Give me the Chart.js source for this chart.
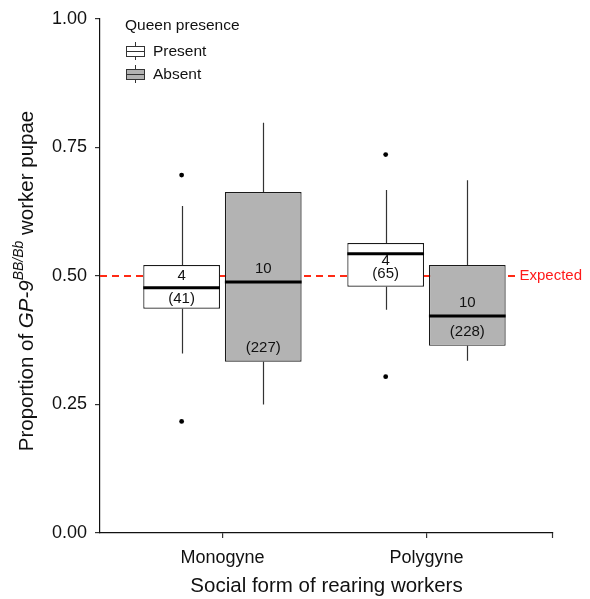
<!DOCTYPE html>
<html>
<head>
<meta charset="utf-8">
<script src="https://cdn.jsdelivr.net/npm/chart.js@4.4.1/dist/chart.umd.min.js"></script>
<style>
html, body { margin: 0; padding: 0; background: #fff; }
</style>
</head>
<body>
<canvas id="graficoCanvas" width="590" height="599"></canvas>
<script>
// DADOS
const categorias = ['Monogyne', 'Polygyne']
const posicoes = [1, 2]

// Queen present
const q1Present = [0.436, 0.479]
const q3Present = [0.521, 0.564]
const medianaPresent = [0.477, 0.543]
const bigodeMinPresent = [0.349, 0.434]
const bigodeMaxPresent = [0.636, 0.667]
const outliersPresent = [[0.217, 0.696], [0.304, 0.736]]
const coloniasPresent = [4, 4]
const pupasPresent = [41, 65]
const yColoniasPresent = [0.500, 0.529]
const yPupasPresent = [0.455, 0.504]

// Queen absent
const q1Absent = [0.333, 0.364]
const q3Absent = [0.663, 0.521]
const medianaAbsent = [0.488, 0.422]
const bigodeMinAbsent = [0.250, 0.335]
const bigodeMaxAbsent = [0.798, 0.686]
const outliersAbsent = [[], []]
const coloniasAbsent = [10, 10]
const pupasAbsent = [227, 228]
const yColoniasAbsent = [0.514, 0.448]
const yPupasAbsent = [0.360, 0.391]

const esperado = 0.5
const fimEsperado = 2.436
const ticksY = [0, 0.25, 0.5, 0.75, 1]

const FONTE = "'Liberation Sans', Arial, Helvetica, sans-serif"
Chart.defaults.font.family = FONTE
Chart.defaults.color = '#111'

const grupos = [
	{ q1: q1Present, q3: q3Present, med: medianaPresent, min: bigodeMinPresent, max: bigodeMaxPresent,
	  out: outliersPresent, col: coloniasPresent, pup: pupasPresent, yCol: yColoniasPresent, yPup: yPupasPresent },
	{ q1: q1Absent, q3: q3Absent, med: medianaAbsent, min: bigodeMinAbsent, max: bigodeMaxAbsent,
	  out: outliersAbsent, col: coloniasAbsent, pup: pupasAbsent, yCol: yColoniasAbsent, yPup: yPupasAbsent }
]

// desenha bigodes, medianas, outliers, textos e legenda
const boxPlugin = {
	id: 'boxPlugin',
	beforeDatasetsDraw(chart) {
		const ctx = chart.ctx
		const x = chart.scales.x
		const y = chart.scales.y
		const ye = y.getPixelForValue(esperado)

		// linha esperada
		ctx.save()
		ctx.strokeStyle = '#ff2a14'
		ctx.lineWidth = 2
		ctx.setLineDash([7, 5])
		ctx.beginPath()
		ctx.moveTo(chart.chartArea.left, ye)
		ctx.lineTo(x.getPixelForValue(fimEsperado), ye)
		ctx.stroke()
		ctx.restore()

		// bigodes
		ctx.save()
		ctx.strokeStyle = '#333'
		ctx.lineWidth = 1.2
		grupos.forEach((g, d) => {
			const meta = chart.getDatasetMeta(d)
			meta.data.forEach((bar, i) => {
				const cx = Math.round(bar.x) + 0.5
				ctx.beginPath()
				ctx.moveTo(cx, y.getPixelForValue(g.max[i]))
				ctx.lineTo(cx, y.getPixelForValue(g.q3[i]))
				ctx.moveTo(cx, y.getPixelForValue(g.q1[i]))
				ctx.lineTo(cx, y.getPixelForValue(g.min[i]))
				ctx.stroke()
			})
		})
		ctx.restore()
	},
	afterDatasetsDraw(chart) {
		const ctx = chart.ctx
		const y = chart.scales.y
		const x = chart.scales.x
		ctx.save()
		grupos.forEach((g, d) => {
			const meta = chart.getDatasetMeta(d)
			meta.data.forEach((bar, i) => {
				const half = bar.width / 2
				// mediana
				ctx.strokeStyle = '#000'
				ctx.lineWidth = 3
				ctx.beginPath()
				const ym = y.getPixelForValue(g.med[i])
				ctx.moveTo(bar.x - half, ym)
				ctx.lineTo(bar.x + half, ym)
				ctx.stroke()
				// outliers
				ctx.fillStyle = '#000'
				g.out[i].forEach(v => {
					ctx.beginPath()
					ctx.arc(bar.x, y.getPixelForValue(v), 2.4, 0, Math.PI * 2)
					ctx.fill()
				})
				// textos
				ctx.fillStyle = '#111'
				ctx.font = '15px ' + FONTE
				ctx.textAlign = 'center'
				ctx.textBaseline = 'middle'
				ctx.fillText(String(g.col[i]), bar.x, y.getPixelForValue(g.yCol[i]))
				ctx.fillText('(' + g.pup[i] + ')', bar.x, y.getPixelForValue(g.yPup[i]))
			})
		})

		// texto Expected
		ctx.fillStyle = '#ff1a1a'
		ctx.font = '15px ' + FONTE
		ctx.textAlign = 'left'
		ctx.textBaseline = 'middle'
		ctx.fillText('Expected', x.getPixelForValue(fimEsperado) + 4, y.getPixelForValue(esperado))
		ctx.restore()
	},
	afterDraw(chart) {
		const ctx = chart.ctx
		const x = chart.scales.x
		const area = chart.chartArea

		// tick final do eixo x
		ctx.save()
		ctx.strokeStyle = '#333'
		ctx.lineWidth = 1.2
		ctx.beginPath()
		ctx.moveTo(x.right - 0.5, area.bottom)
		ctx.lineTo(x.right - 0.5, area.bottom + 5)
		ctx.stroke()

		// titulo do eixo y
		ctx.translate(27, 281)
		ctx.rotate(-Math.PI / 2)
		ctx.fillStyle = '#111'
		ctx.textBaseline = 'middle'
		ctx.textAlign = 'left'
		const partes = [
			{ t: 'Proportion of ', f: '20.5px ' + FONTE, dy: 0 },
			{ t: 'GP-9', f: 'italic 20.5px ' + FONTE, dy: 0 },
			{ t: 'BB/Bb', f: 'italic 14px ' + FONTE, dy: -8 },
			{ t: ' worker pupae', f: '20.5px ' + FONTE, dy: 0 }
		]
		let total = 0
		partes.forEach(p => { ctx.font = p.f; p.w = ctx.measureText(p.t).width; total += p.w })
		let px = -total / 2
		partes.forEach(p => {
			ctx.font = p.f
			ctx.fillText(p.t, px, p.dy)
			px += p.w
		})
		ctx.restore()

		// legenda
		ctx.save()
		ctx.fillStyle = '#111'
		ctx.font = '15.5px ' + FONTE
		ctx.textBaseline = 'middle'
		ctx.textAlign = 'left'
		ctx.fillText('Queen presence', 125, 26)
		const itens = [
			{ nome: 'Present', cor: '#ffffff', yc: 51 },
			{ nome: 'Absent', cor: '#b3b3b3', yc: 74 }
		]
		itens.forEach(it => {
			ctx.fillStyle = it.cor
			ctx.fillRect(126, it.yc - 5, 18, 10)
			ctx.strokeStyle = '#333'
			ctx.lineWidth = 1
			ctx.strokeRect(126.5, it.yc - 4.5, 18, 10)
			ctx.beginPath()
			ctx.moveTo(126, it.yc + 0.5)
			ctx.lineTo(145, it.yc + 0.5)
			ctx.moveTo(135.5, it.yc - 9)
			ctx.lineTo(135.5, it.yc - 5)
			ctx.moveTo(135.5, it.yc + 5)
			ctx.lineTo(135.5, it.yc + 9)
			ctx.stroke()
			ctx.fillStyle = '#111'
			ctx.fillText(it.nome, 153, it.yc + 1)
		})
		ctx.restore()
	}
}

const ctx = document.getElementById('graficoCanvas').getContext('2d')

const grafico = new Chart(ctx, {
	type: 'bar',
	data: {
		datasets: [{
			label: 'Present',
			data: posicoes.map((p, i) => ({ x: p, y: [q1Present[i], q3Present[i]] })),
			backgroundColor: '#ffffff',
			borderColor: '#1a1a1a',
			borderWidth: 1.2,
			borderSkipped: false
		},
		{
			label: 'Absent',
			data: posicoes.map((p, i) => ({ x: p, y: [q1Absent[i], q3Absent[i]] })),
			backgroundColor: '#b3b3b3',
			borderColor: '#1a1a1a',
			borderWidth: 1.2,
			borderSkipped: false
		}]
	},
	options: {
		responsive: false,
		animation: false,
		categoryPercentage: 0.8,
		barPercentage: 0.94,
		layout: {
			padding: { left: 0, right: 37, top: 17, bottom: 0 }
		},
		scales: {
			x: {
				type: 'linear',
				min: 0.4,
				max: 2.62,
				offset: false,
				afterBuildTicks: (scale) => {
					scale.ticks = posicoes.map(v => ({ value: v }))
				},
				afterFit: (scale) => { scale.height = 66 },
				grid: {
					display: true,
					offset: false,
					drawOnChartArea: false,
					drawTicks: true,
					tickLength: 5,
					color: '#333',
					lineWidth: 1.2
				},
				border: { display: true, color: '#111', width: 1.2 },
				ticks: {
					font: { size: 18 },
					color: '#111',
					padding: 9,
					maxRotation: 0,
					callback: (v) => categorias[posicoes.indexOf(v)] || ''
				},
				title: {
					display: true,
					text: 'Social form of rearing workers',
					font: { size: 20.5 },
					color: '#111',
					padding: { top: 2, bottom: 0 }
				}
			},
			y: {
				min: 0,
				max: 1,
				afterBuildTicks: (scale) => {
					scale.ticks = ticksY.map(v => ({ value: v }))
				},
				afterFit: (scale) => { scale.width = 100 },
				grid: {
					display: true,
					drawOnChartArea: false,
					drawTicks: true,
					tickLength: 5,
					color: '#333',
					lineWidth: 1.2
				},
				border: { display: true, color: '#111', width: 1.2 },
				ticks: {
					font: { size: 18 },
					color: '#111',
					padding: 8,
					callback: (v) => v.toFixed(2)
				}
			}
		},
		plugins: {
			legend: { display: false },
			tooltip: { enabled: false }
		}
	},
	plugins: [boxPlugin]
})
</script>
</body>
</html>
